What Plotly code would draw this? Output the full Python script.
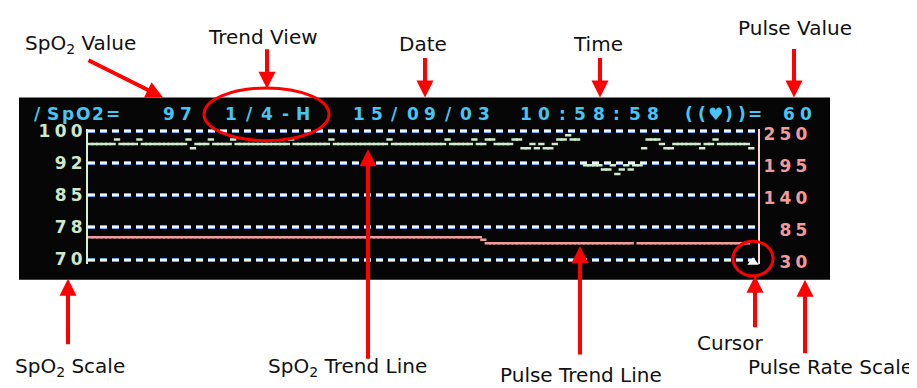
#Importing required libs and modules
import plotly.graph_objects as go

W, H = 917, 388
OFF = 8  # the page puts the figure 8px in from the top-left corner

#SpO2 trend (%), one value per sample of the 1/4-H trend view, None = no data
spo2_trend = [97, 97, 97, 97, 97, 97, 98, 97, 97, 97,
              97, 98, 97, 97, 97, 97, 97, 97, 97, 97,
              97, 97, 98, 96, 97, 97, 97, 98, 97, 97,
              97, 97, 98, 97, 97, 97, 97, 97, 97, 97,
              97, 97, 97, 97, 97, 98, 97, 97, 97, 97,
              97, 97, 97, 97, 98, 97, 97, 97, 97, 97,
              97, 97, 97, 97, 97, 97, 97, 98, 97, 97,
              97, 97, 97, 97, 97, 97, 97, 97, 97, 97,
              98, 97, 97, 97, 97, 97, 98, 97, 97, 98,
              98, 97, 97, 97, 97, 98, 98, 96, 96, 97,
              96, 97, 96, 96, 97, 98, 98, 99, 98, 98,
              None, 92, 92, 92, 92, 91, 91, 92, 90, 91,
              92, 91, 92, 92, 96, 98, 98, 98, 97, 96,
              96, 97, 97, 97, 97, 97, 97, 96, 97, 97,
              98, 97, 97, 97, 97, 97, 97, 97, 96, None]

#Pulse trend (bpm), same samples
pulse_trend = [68, 68, 68, 68, 68, 68, 68, 68, 68, 68,
               68, 68, 68, 68, 68, 68, 68, 68, 68, 68,
               68, 68, 68, 68, 68, 68, 68, 68, 68, 68,
               68, 68, 68, 68, 68, 68, 68, 68, 68, 68,
               68, 68, 68, 68, 68, 68, 68, 68, 68, 68,
               68, 68, 68, 68, 68, 68, 68, 68, 68, 68,
               68, 68, 68, 68, 68, 68, 68, 68, 68, 68,
               68, 68, 68, 68, 68, 68, 68, 68, 68, 68,
               68, 68, 68, 68, 68, 68, 68, 68, 64, 58,
               58, 58, 58, 58, 58, 58, 58, 58, 58, 58,
               58, 58, 58, 58, 58, 58, 58, 58, 58, 58,
               58, 58, 58, 58, 58, 58, 58, 58, 58, 58,
               58, 58, None, 58, 58, 58, 58, 58, 58, 58,
               58, 58, 58, 58, 58, 58, 58, 58, 58, 58,
               58, 58, 58, 58, 58, 58, 58, 58, None, None]

sample_idx = list(range(len(spo2_trend)))

#Scales shown on the screen
spo2_ticks = [70, 77.5, 85, 92.5, 100]
spo2_labels = ["70", "78", "85", "92", "100"]
pulse_ticks = [30, 85, 140, 195, 250]
pulse_labels = ["30", "85", "140", "195", "250"]
spo2_range = [69, 100.4]
pulse_range = [22.67, 252.93]

#Cursor position (sample, SpO2 units)
cursor_x = [148.4]
cursor_y = [69.35]

#Header line of the screen: (text, left px, right px)
header = [("/SpO2=", 30, 120), ("97", 160, 194), ("1/4-H", 222, 312),
          ("15/09/03", 350, 493), ("10:58:58", 517, 662),
          ("((\u2665))=", 682, 762), ("60", 780, 815)]

#Callouts: (text, x, y) and arrows: (tail x, tail y, tip x, tip y)
top_labels = [("SpO<sub>2</sub> Value", 80, 37), ("Trend View", 263, 30),
              ("Date", 423, 37), ("Time", 598, 37), ("Pulse Value", 795, 20)]
bottom_labels = [("SpO<sub>2</sub> Scale", 70, 374), ("SpO<sub>2</sub> Trend Line", 347, 374),
                 ("Pulse Trend Line", 581, 382), ("Cursor", 730, 349),
                 ("Pulse Rate Scale", 830, 374)]
arrows = [(87, 55, 163, 93), (267, 43, 267, 84), (425, 52, 425, 93),
          (600, 52, 600, 93), (794, 43, 794, 93), (68, 349, 68, 282),
          (368, 358, 368, 147), (580, 358, 580, 248), (755, 332, 755, 279),
          (805, 358, 805, 283)]


# pixel (as seen on the page) -> paper helpers, margins are zero
def px(x):
    return (x - OFF) / W


def py(y):
    return 1 - (y - OFF) / H


# spread the glyphs out like the dot matrix screen does
def spaced(s):
    return "\u2005".join(s)


# pixel rows of the SpO2 axis ends (100 -> 128px, 70 -> 262px)
k = (262 - 128) / 30
y_top = 128 - (spo2_range[1] - 100) * k
y_bot = 262 + (70 - spo2_range[0]) * k

fig = go.Figure()

# SpO2 trend line
fig.add_trace(go.Scatter(x=sample_idx, y=spo2_trend, mode="markers", yaxis="y",
                         marker=dict(symbol="line-ew", size=4.5,
                                     line=dict(color="#cdeccb", width=2.5)),
                         hoverinfo="skip", showlegend=False))
# Pulse trend line
fig.add_trace(go.Scatter(x=sample_idx, y=pulse_trend, mode="markers", yaxis="y2",
                         marker=dict(symbol="line-ew", size=4.5,
                                     line=dict(color="#f09c9c", width=2.5)),
                         hoverinfo="skip", showlegend=False))
# Cursor
fig.add_trace(go.Scatter(x=cursor_x, y=cursor_y, mode="markers", yaxis="y",
                         marker=dict(symbol="triangle-up", size=10, color="white"),
                         cliponaxis=False, hoverinfo="skip", showlegend=False))

tickfont_l = dict(family="DejaVu Sans", size=17, color="#cfe8c8", weight="bold")
tickfont_r = dict(family="DejaVu Sans", size=17, color="#f29a9a", weight="bold")

fig.update_layout(
    width=W, height=H, autosize=False,
    margin=dict(l=0, r=0, t=0, b=0),
    paper_bgcolor="white", plot_bgcolor="#060606",
    xaxis=dict(domain=[px(88), px(758)], range=[-0.5, len(spo2_trend) - 0.5],
               showgrid=False, zeroline=False, showticklabels=False, ticks=""),
    yaxis=dict(domain=[py(y_bot), py(y_top)], range=spo2_range,
               tickvals=spo2_ticks, ticktext=[spaced(t) for t in spo2_labels],
               tickfont=tickfont_l, ticks="",
               showgrid=True, gridcolor="#6aa6ee", gridwidth=4, griddash="7px,5px",
               zeroline=False, showline=True, linecolor="#d6f0d2", linewidth=2),
    yaxis2=dict(domain=[py(y_bot), py(y_top)], range=pulse_range, overlaying="y", side="right",
                tickvals=pulse_ticks,
                ticktext=[("\u2007\u2005" if len(t) == 2 else "") + spaced(t) for t in pulse_labels],
                tickfont=tickfont_r, ticks="", ticklabelshift=3,
                showgrid=True, gridcolor="#f4f8ff", gridwidth=2, griddash="7px,5px",
                zeroline=False, showline=True, linecolor="#f6d6d6", linewidth=2),
)

# black screen behind the plot
fig.add_shape(type="rect", xref="paper", yref="paper", layer="below",
              x0=px(19), x1=px(830), y0=py(283), y1=py(93),
              fillcolor="#060606", line=dict(width=0))

# header characters
for text, x0, x1 in header:
    step = (x1 - x0) / len(text)
    for i, ch in enumerate(text):
        fig.add_annotation(x=px(x0 + (i + 0.5) * step), y=py(110), xref="paper", yref="paper",
                           text=ch, showarrow=False, xanchor="center", yanchor="middle",
                           font=dict(family="DejaVu Sans", size=17, color="#45c6f4", weight="bold"))

# red circles
fig.add_shape(type="circle", xref="paper", yref="paper",
              x0=px(204), x1=px(329), y0=py(138), y1=py(83),
              line=dict(color="#ff0000", width=3))
fig.add_shape(type="circle", xref="paper", yref="paper",
              x0=px(733), x1=px(773), y0=py(279), y1=py(243),
              line=dict(color="#ff0000", width=3))

# callout texts
for text, x, y in top_labels + bottom_labels:
    fig.add_annotation(x=px(x), y=py(y), xref="paper", yref="paper", text=text,
                       showarrow=False, xanchor="center", yanchor="middle",
                       font=dict(family="DejaVu Sans", size=20, color="#111111"))

# callout arrows
for tx, ty, hx, hy in arrows:
    fig.add_annotation(x=px(hx), y=py(hy), xref="paper", yref="paper", text="",
                       showarrow=True, axref="pixel", ayref="pixel",
                       ax=tx - hx, ay=ty - hy,
                       arrowhead=2, arrowsize=0.85, arrowwidth=4, arrowcolor="#ff0000")

fig.write_html("out.html")
